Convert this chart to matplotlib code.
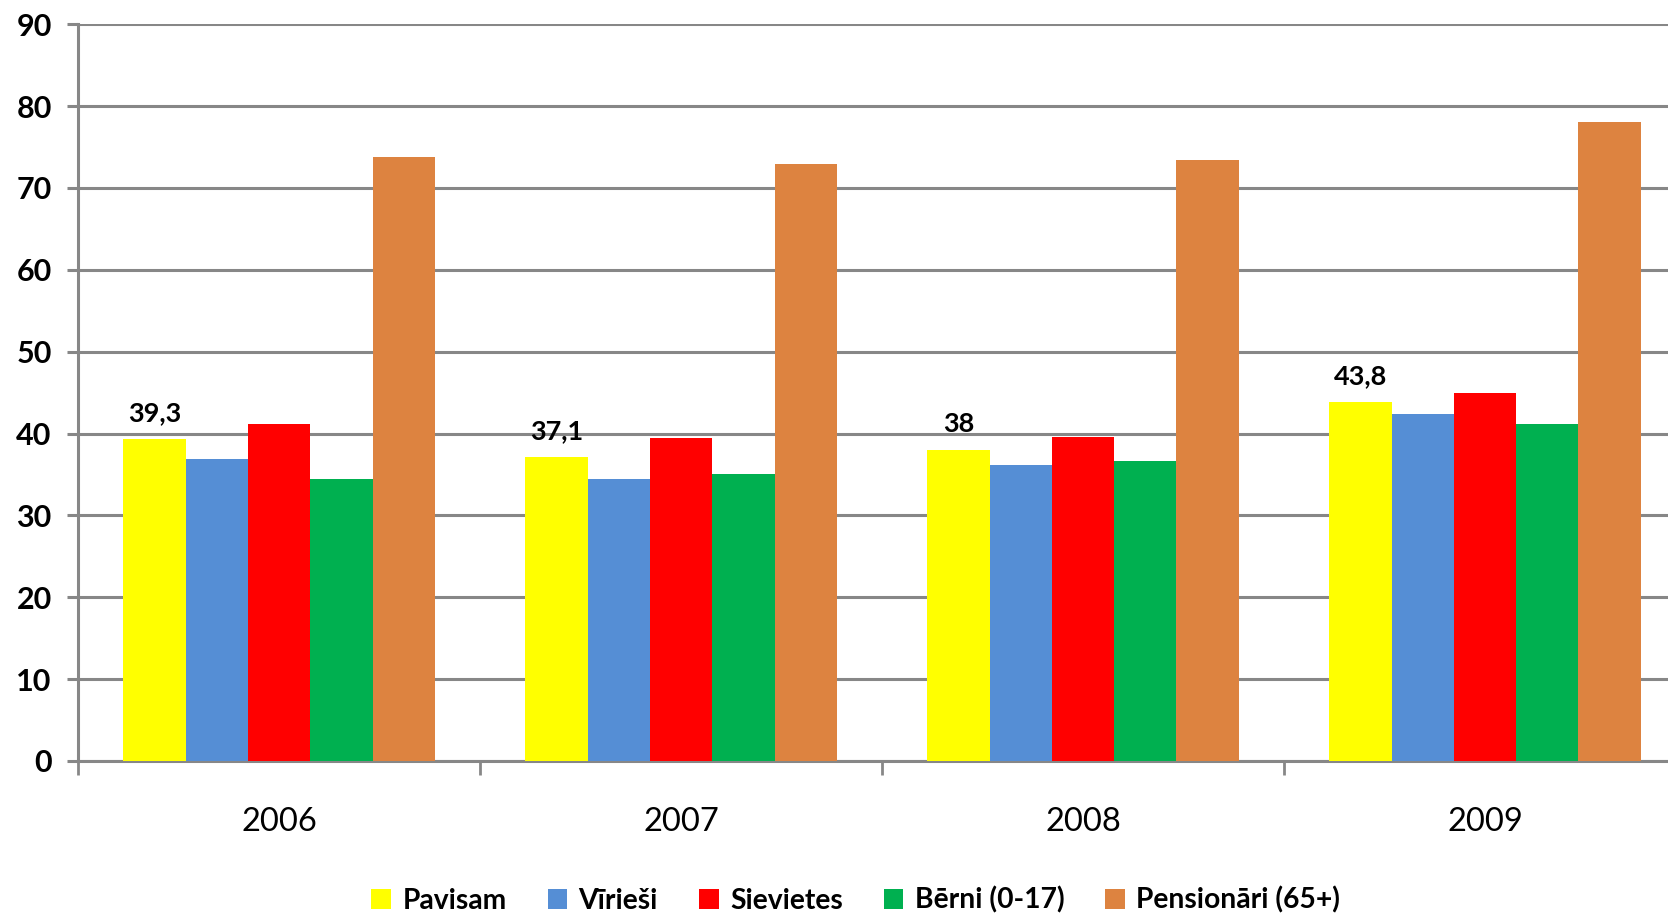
import matplotlib
matplotlib.use("Agg")
import matplotlib.pyplot as plt
import numpy as np

plt.rcParams['font.family'] = ['Lato', 'DejaVu Sans']

# dati
gadi = ['2006', '2007', '2008', '2009']
serijas = ['Pavisam', 'Vīrieši', 'Sievietes', 'Bērni (0-17)', 'Pensionāri (65+)']
pavisam = [39.3, 37.1, 38.0, 43.8]
virziesi = [36.9, 34.4, 36.1, 42.4]
sievietes = [41.2, 39.5, 39.6, 44.9]
berni = [34.5, 35.1, 36.6, 41.2]
pensionari = [73.8, 72.9, 73.4, 78.0]
etiketes = ['39,3', '37,1', '38', '43,8']

krasas = ['#FFFF00', '#558ED5', '#FF0000', '#00B050', '#DD8340']
pelēks = '#878787'

fig = plt.figure(figsize=(16.68, 9.13), dpi=100)
ax = fig.add_axes([0.0468, 0.1665, 0.964, 0.807])

x = np.arange(len(gadi))
w = 0.155
vertibas = [pavisam, virziesi, sievietes, berni, pensionari]
for i, (v, c, n) in enumerate(zip(vertibas, krasas, serijas)):
    ax.bar(x + (i - 2) * w, v, w, color=c, label=n, zorder=3)

# etiķetes virs "Pavisam"
for xi, v, t in zip(x, pavisam, etiketes):
    ax.annotate(t, (xi - 2 * w, v), xytext=(0, 10), textcoords='offset points',
                ha='center', va='bottom', fontsize=19.5, fontweight='bold')

ax.set_xlim(-0.5, 3.5)
ax.set_ylim(0, 90)
ax.set_yticks(range(0, 91, 10))
ax.yaxis.grid(True, color=pelēks, linewidth=2.2)
ax.set_axisbelow(True)

ax.set_xticks([-0.5, 0.5, 1.5, 2.5, 3.5])
ax.set_xticklabels([])
ax.set_xticks(x, minor=True)
ax.set_xticklabels(gadi, minor=True, fontsize=23.5)
ax.tick_params(axis='x', which='major', length=10, width=2, color=pelēks)
ax.tick_params(axis='x', which='minor', length=0, pad=33)
ax.tick_params(axis='y', length=8, width=2.2, color=pelēks, pad=11, labelsize=22)
for lbl in ax.get_yticklabels():
    lbl.set_fontweight('bold')

for s in ['top', 'right']:
    ax.spines[s].set_visible(False)
for s in ['left', 'bottom']:
    ax.spines[s].set_color(pelēks)
    ax.spines[s].set_linewidth(2.2)

leg = fig.legend(loc='center', bbox_to_anchor=(0.513, 0.014), ncol=5, frameon=False,
                 handlelength=0.7, handleheight=0.7, handletextpad=0.4,
                 columnspacing=1.45, prop={'weight': 'bold', 'size': 20.3})

fig.savefig('out.png', dpi=100)
